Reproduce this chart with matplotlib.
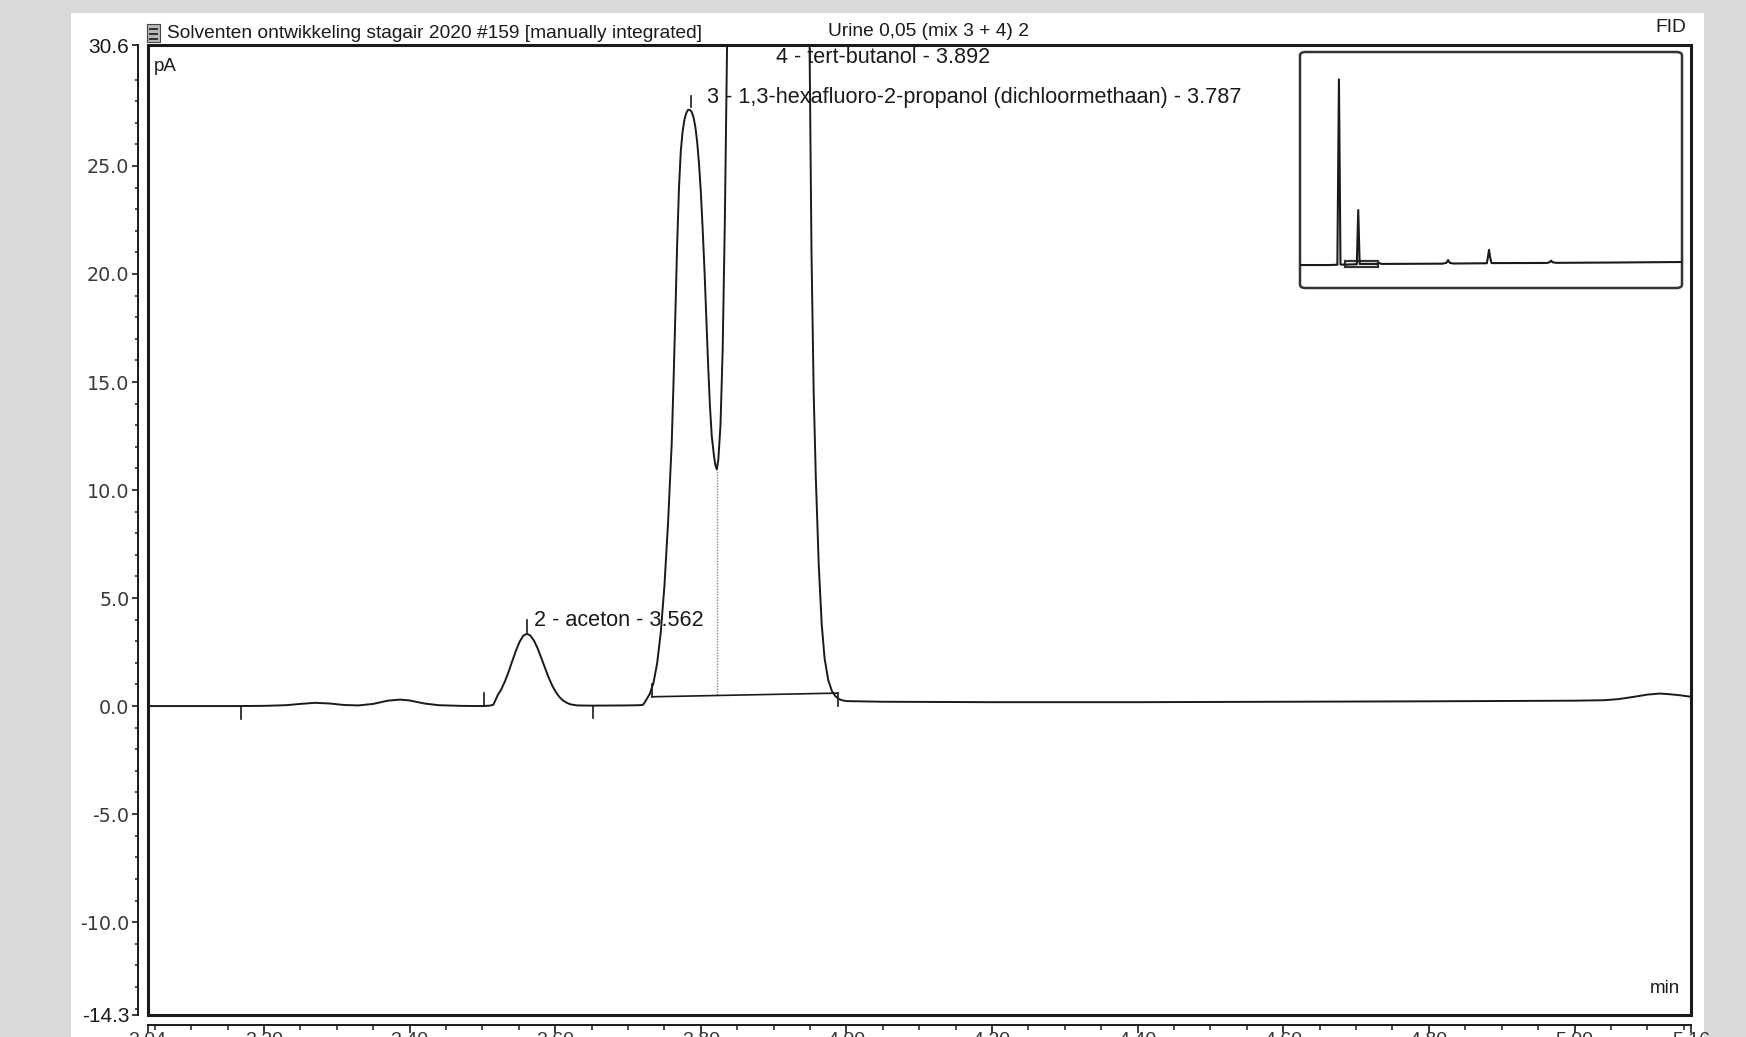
import matplotlib
matplotlib.use("Agg")
import matplotlib.pyplot as plt
from matplotlib.patches import Rectangle, FancyBboxPatch

# ---------------- data ----------------
time_min = [3.040, 3.100, 3.160, 3.200, 3.230, 3.250, 3.270, 3.290, 3.310, 3.330,
            3.350, 3.370, 3.387, 3.400, 3.420, 3.440, 3.470, 3.500, 3.510, 3.515,
            3.521, 3.526, 3.531, 3.536, 3.541, 3.546, 3.551, 3.556, 3.561, 3.566,
            3.571, 3.576, 3.581, 3.586, 3.591, 3.596, 3.601, 3.606, 3.611, 3.616,
            3.621, 3.630, 3.650, 3.700, 3.715, 3.720, 3.722, 3.725, 3.730, 3.735,
            3.740, 3.745, 3.750, 3.755, 3.760, 3.7625, 3.765, 3.7675, 3.770, 3.7725,
            3.775, 3.7775, 3.780, 3.7825, 3.785, 3.7875, 3.790, 3.7925, 3.795, 3.7975,
            3.800, 3.8025, 3.805, 3.8075, 3.810, 3.8125, 3.815, 3.818, 3.820, 3.822,
            3.824, 3.827, 3.830, 3.833, 3.836, 3.838, 3.843, 3.892, 3.942, 3.947,
            3.9495, 3.952, 3.955, 3.958, 3.962, 3.966, 3.970, 3.975, 3.980, 3.985,
            3.990, 3.995, 4.000, 4.050, 4.200, 4.400, 4.600, 4.800, 5.000, 5.040,
            5.060, 5.080, 5.100, 5.117, 5.130, 5.145, 5.160]
signal_pA = [0.00, 0.00, 0.00, 0.01, 0.04, 0.10, 0.15, 0.12, 0.05, 0.03,
             0.10, 0.25, 0.30, 0.26, 0.12, 0.04, 0.01, 0.00, 0.02, 0.06,
             0.50, 0.78, 1.15, 1.59, 2.08, 2.56, 2.97, 3.25, 3.35, 3.26,
             3.02, 2.66, 2.22, 1.76, 1.32, 0.94, 0.64, 0.41, 0.25, 0.15,
             0.08, 0.03, 0.02, 0.03, 0.04, 0.05, 0.12, 0.29, 0.57, 1.08,
             1.98, 3.42, 5.56, 8.50, 12.15, 15.00, 18.10, 21.40, 24.00, 25.70,
             26.60, 27.15, 27.45, 27.60, 27.60, 27.50, 27.25, 26.80, 26.10, 25.10,
             23.80, 22.10, 20.20, 18.00, 15.80, 13.90, 12.50, 11.60, 11.15, 10.95,
             11.40, 13.00, 16.50, 22.50, 30.50, 39.00, 72.60, 1380.0, 72.00, 39.00,
             30.00, 21.00, 14.50, 10.50, 6.50, 3.80, 2.20, 1.20, 0.70, 0.45,
             0.32, 0.26, 0.23, 0.20, 0.18, 0.18, 0.20, 0.22, 0.25, 0.27,
             0.32, 0.42, 0.53, 0.58, 0.55, 0.50, 0.43]

peak_labels = ["2 - aceton - 3.562",
               "3 - 1,3-hexafluoro-2-propanol (dichloormethaan) - 3.787",
               "4 - tert-butanol - 3.892"]
peak_rt = [3.561, 3.786, 3.892]
label_level = [3.95, 28.15, 30.0]
apex_mark_low = [3.45, 27.75]
apex_mark_high = [4.0, 28.25]

# integration markers (time, from, to) and baselines
int_tick_t = [3.169, 3.502, 3.652, 3.733, 3.988]
int_tick_y0 = [0.0, 0.0, 0.0, 0.43, 0.60]
int_tick_y1 = [-0.6, 0.6, -0.55, 1.0, 0.0]
int_base_t = [3.733, 3.988]
int_base_y = [0.43, 0.60]
drop_t = 3.822
drop_y = [0.49, 10.95]

x_min, x_max = 3.04, 5.16
y_min, y_max = -14.3, 30.6
xtick_vals = [3.04, 3.20, 3.40, 3.60, 3.80, 4.00, 4.20, 4.40, 4.60, 4.80, 5.00, 5.16]
xtick_labels = ["3.04", "3.20", "3.40", "3.60", "3.80", "4.00", "4.20", "4.40",
                "4.60", "4.80", "5.00", "5.16"]
ytick_vals = [30.6, 25.0, 20.0, 15.0, 10.0, 5.0, 0.0, -5.0, -10.0, -14.3]
ytick_labels = ["30.6", "25.0", "20.0", "15.0", "10.0", "5.0", "0.0", "-5.0",
                "-10.0", "-14.3"]

title_left = "Solventen ontwikkeling stagair 2020 #159 [manually integrated]"
title_mid = "Urine 0,05 (mix 3 + 4) 2"
title_right = "FID"

# overview (inset) trace
inset_time = [0.15, 1.0, 2.0, 2.55, 2.65, 2.75, 3.0, 3.80, 3.89, 3.98, 4.5, 5.1,
              5.25, 5.4, 9.3, 9.55, 9.66, 9.77, 10.0, 12.15, 12.22, 12.29, 12.36,
              12.45, 16.0, 16.17, 16.27, 16.37, 16.6, 20.0, 24.68]
inset_signal = [0, 0, 0, 2, 1350, 4, 3, 6, 400, 8, 8, 8,
                14, 8, 10, 16, 36, 16, 11, 13, 60, 110, 55,
                14, 15, 20, 32, 20, 16, 18, 22]

# ---------------- figure ----------------
W, H, DPI = 1746, 1037, 100
ink = "#1a1a1a"
fig = plt.figure(figsize=(W / DPI, H / DPI), dpi=DPI, facecolor="#d9d9d9")


def fx(px):
    return px / W


def fy(py):
    return 1 - py / H


# white page
fig.patches.append(Rectangle((fx(71), 0), fx(1704) - fx(71), fy(13),
                             transform=fig.transFigure, facecolor="white",
                             edgecolor="none", zorder=-5))

L, R, T, B = 147.5, 1691, 45, 1015
ax = fig.add_axes([fx(L), fy(B), fx(R) - fx(L), fy(T) - fy(B)])
ax.set_zorder(2)
ax.set_facecolor("white")
ax.set_xlim(x_min, x_max)
ax.set_ylim(y_min, y_max)

# trace
ax.plot(time_min, signal_pA, color=ink, lw=1.4, zorder=3)

# integration baseline / ticks / drop line
ax.plot(int_base_t, int_base_y, color=ink, lw=1.2, zorder=3)
for t, y0, y1 in zip(int_tick_t, int_tick_y0, int_tick_y1):
    ax.plot([t, t], [y0, y1], color=ink, lw=1.2, zorder=3)
ax.plot([drop_t, drop_t], drop_y, color="#888888", lw=1.0, ls=(0, (1, 1)), zorder=2)

# apex marks
for t, y0, y1 in zip(peak_rt[:2], apex_mark_low, apex_mark_high):
    ax.plot([t, t], [y0, y1], color=ink, lw=1.2, zorder=3)

# peak labels
label_dx = [5, 12, 6]  # points
for txt, t, y, dx in zip(peak_labels, peak_rt, label_level, label_dx):
    ax.annotate(txt, xy=(t, y), xytext=(dx, 0), textcoords="offset points",
                ha="left", va="center", fontsize=15.6, family="Liberation Sans",
                color=ink, zorder=4, annotation_clip=False)

ax.text(0.004, 0.978, "pA", transform=ax.transAxes, ha="left", va="center",
        fontsize=13.5, family="Liberation Sans", color=ink)
ax.text(0.993, 0.027, "min", transform=ax.transAxes, ha="right", va="center",
        fontsize=13.5, family="Liberation Sans", color=ink)

# spines / frame
for s in ["top", "right"]:
    ax.spines[s].set_visible(False)
ax.spines["left"].set_position(("outward", 7))
ax.spines["bottom"].set_position(("outward", 7))
ax.spines["left"].set_color(ink)
ax.spines["bottom"].set_color(ink)
ax.spines["left"].set_linewidth(1.4)
ax.spines["bottom"].set_linewidth(1.4)
ax.add_patch(Rectangle((0, 0), 1, 1, transform=ax.transAxes, fill=False,
                       edgecolor=ink, lw=2.2, zorder=5, clip_on=False))

minor_x = [round(3.05 + 0.05 * i, 2) for i in range(43)]
minor_x = [v for v in minor_x if v < 5.16 and round(v * 100) % 20 != 0]
ax.set_xticks(xtick_vals, labels=xtick_labels)
ax.set_xticks(minor_x, minor=True)
ax.set_yticks(ytick_vals, labels=ytick_labels)
ax.set_yticks([v for v in range(-14, 31) if v % 5 != 0], minor=True)
ax.tick_params(axis="x", which="major", direction="out", length=6, width=1.2,
               color=ink, pad=-0.5, labelsize=14, labelcolor="#333333")
ax.tick_params(axis="x", which="minor", direction="out", length=3.5, width=1.1, color=ink)
ax.tick_params(axis="y", which="major", direction="out", length=4.5, width=1.2,
               color=ink, pad=1.5, labelcolor="#3a3a3a")
ax.tick_params(axis="y", which="minor", direction="out", length=2.5, width=1.1, color=ink)
for lab in ax.get_xticklabels():
    lab.set_fontfamily("Liberation Sans")
for lab in ax.get_yticklabels():
    if lab.get_text() in ("30.6", "-14.3"):
        lab.set_fontfamily("Liberation Sans")
        lab.set_fontsize(15)
        lab.set_color(ink)
    else:
        lab.set_fontfamily("DejaVu Sans")
        lab.set_fontsize(13.8)

# header texts
fig.text(fx(167), fy(34), title_left, ha="left", va="center", fontsize=13.8,
         family="Liberation Sans", color=ink)
fig.text(fx(929), fy(32), title_mid, ha="center", va="center", fontsize=13.8,
         family="Liberation Sans", color=ink)
fig.text(fx(1686), fy(27), title_right, ha="right", va="center", fontsize=13.8,
         family="Liberation Sans", color=ink)
# small icon before title
fig.patches.append(Rectangle((fx(147), fy(42)), fx(13), fy(24) - fy(42),
                             transform=fig.transFigure, facecolor="#b8b8b8",
                             edgecolor="#444444", lw=0.8))
for yy in (28, 33, 38):
    fig.patches.append(Rectangle((fx(149), fy(yy + 2)), fx(9), fy(yy) - fy(yy + 2),
                                 transform=fig.transFigure, facecolor="#333333",
                                 edgecolor="none"))

# inset overview
ix = fig.add_axes([fx(1300), fy(288), fx(1682) - fx(1300), fy(52) - fy(288)])
ix.set_zorder(3)
ix.set_facecolor("white")
ix.plot(inset_time, inset_signal, color=ink, lw=1.5)
ix.set_xlim(0.15, 24.68)
ix.set_ylim(-167, 1549)
ix.add_patch(Rectangle((x_min, y_min), x_max - x_min, y_max - y_min,
                       fill=False, edgecolor="#333333", lw=1.6))
ix.set_xticks([])
ix.set_yticks([])
for s in ix.spines.values():
    s.set_visible(False)
ix.add_patch(FancyBboxPatch((0, 0), 1, 1, boxstyle="round,pad=0,rounding_size=0.015",
                            transform=ix.transAxes, fill=False, edgecolor="#333333",
                            lw=1.8, clip_on=False))

fig.savefig("out.png", dpi=DPI, facecolor=fig.get_facecolor())
